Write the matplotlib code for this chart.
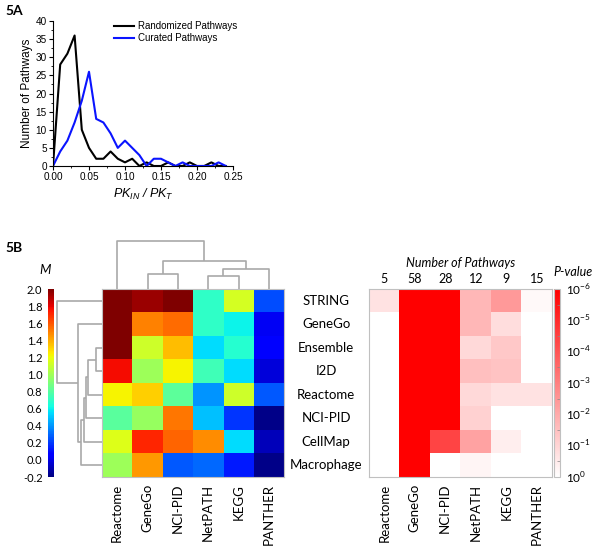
import numpy as np
import matplotlib
matplotlib.use("Agg")
import matplotlib.pyplot as plt
from matplotlib.colors import LinearSegmentedColormap
from matplotlib.ticker import MultipleLocator

plt.rcParams['mathtext.fontset'] = 'custom'
plt.rcParams['mathtext.rm'] = 'Liberation Sans'
plt.rcParams['mathtext.it'] = 'Liberation Sans:italic'

# ---- panel A data ----
ratio = [0.00, 0.01, 0.02, 0.03, 0.04, 0.05, 0.06, 0.07, 0.08, 0.09, 0.10, 0.11, 0.12,
         0.13, 0.14, 0.15, 0.16, 0.17, 0.18, 0.19, 0.20, 0.21, 0.22, 0.23, 0.24]
randomized = [0, 28, 31, 36, 10, 5, 2, 2, 4, 2, 1, 2, 0,
              1, 0, 0, 1, 0, 0, 1, 0, 0, 1, 0, 0]
curated = [0, 4, 7, 12, 18, 26, 13, 12, 9, 5, 7, 5, 3,
           0, 2, 2, 1, 0, 1, 0, 0, 0, 0, 1, 0]

# ---- panel B data ----
rows = ["STRING", "GeneGo", "Ensemble", "I2D", "Reactome", "NCI-PID", "CellMap", "Macrophage"]
cols = ["Reactome", "GeneGo", "NCI-PID", "NetPATH", "KEGG", "PANTHER"]
n_pathways = [5, 58, 28, 12, 9, 15]

M = np.array([
    [2.00, 1.94, 2.00, 0.70, 1.14, 0.24],
    [2.00, 1.50, 1.55, 0.70, 0.60, 0.03],
    [2.00, 1.12, 1.36, 0.55, 0.67, 0.05],
    [1.77, 0.99, 1.23, 0.74, 0.55, -0.02],
    [1.23, 1.32, 0.82, 0.40, 1.12, 0.27],
    [0.81, 0.97, 1.52, 0.49, 0.19, -0.18],
    [1.16, 1.71, 1.57, 1.47, 0.55, -0.08],
    [0.99, 1.45, 0.27, 0.30, 0.13, -0.18],
])

# -log10(p)
neglogp = np.array([
    [0.7, 6, 6, 1.7, 2.4, 0.15],
    [0.0, 6, 6, 1.7, 0.8, 0.0],
    [0.0, 6, 6, 0.9, 1.3, 0.0],
    [0.0, 6, 6, 1.5, 1.4, 0.0],
    [0.0, 6, 6, 0.9, 0.7, 0.7],
    [0.0, 6, 6, 1.1, 0.0, 0.0],
    [0.0, 6, 4.4, 2.2, 0.4, 0.0],
    [0.0, 6, 0.0, 0.25, 0.0, 0.0],
])

# dendrograms: (child a, child b, height); ids >= n are earlier merges
col_merges = [(1, 2, 15), (3, 4, 13.3), (7, 5, 20), (6, 8, 28), (0, 9, 48.3)]
row_merges = [(2, 3, 6.3), (8, 4, 13.7), (9, 5, 15.7), (10, 6, 18),
              (11, 7, 20.7), (1, 12, 23.7), (0, 13, 45.3)]

W, H = 600, 553


def rect(x0, y0, x1, y1):
    return [x0 / W, 1 - y1 / H, (x1 - x0) / W, (y1 - y0) / H]


def draw_dendro(ax, n, merges, horizontal):
    pos = {i: (float(i), 0.0) for i in range(n)}
    for k, (a, b, h) in enumerate(merges):
        pa, ha = pos[a]
        pb, hb = pos[b]
        xs = [pa, pa, pb, pb]
        ys = [ha, h, h, hb]
        if horizontal:
            ax.plot(ys, xs, color='#a9a9a9', lw=1.2, solid_capstyle='butt')
        else:
            ax.plot(xs, ys, color='#a9a9a9', lw=1.2, solid_capstyle='butt')
        pos[n + k] = ((pa + pb) / 2, h)
    ax.axis('off')


fig = plt.figure(figsize=(6, 5.53), dpi=100)

# ---------------- 5A ----------------
axA = fig.add_axes(rect(53, 21, 233, 166))
axA.plot(ratio, randomized, color='black', lw=1.5, label='Randomized Pathways')
axA.plot(ratio, curated, color='#0a14ff', lw=1.5, label='Curated Pathways')
axA.set_xlim(0, 0.25)
axA.set_ylim(0, 40)
axA.xaxis.set_major_locator(MultipleLocator(0.05))
axA.xaxis.set_minor_locator(MultipleLocator(0.025))
axA.yaxis.set_major_locator(MultipleLocator(5))
axA.yaxis.set_minor_locator(MultipleLocator(2.5))
axA.set_xticklabels([f"{v:.2f}" for v in axA.get_xticks()])
for s in ['top', 'right']:
    axA.spines[s].set_visible(False)
for s in ['left', 'bottom']:
    axA.spines[s].set_linewidth(0.8)
axA.tick_params(which='major', length=3, width=0.8, labelsize=7.2, pad=1.5)
axA.tick_params(which='minor', length=1.5, width=0.6)
for lab in axA.get_xticklabels() + axA.get_yticklabels():
    lab.set_family('Liberation Sans')
axA.set_ylabel('Number of Pathways', family='Liberation Sans', fontsize=8.5, labelpad=2)
axA.set_xlabel(r'$PK_{IN}$ / $PK_{T}$', family='Liberation Sans', style='italic',
               fontsize=9, labelpad=3)
axA.legend(loc='upper left', bbox_to_anchor=(0.33, 1.01), frameon=False,
           prop={'family': 'Liberation Sans', 'size': 7}, handlelength=2.0,
           handletextpad=0.4, labelspacing=0.2, borderpad=0.2, borderaxespad=0)

fig.text(5 / W, 1 - 11 / H, '5A', family='Lato', weight='bold', fontsize=10, va='center')
fig.text(5 / W, 1 - 248 / H, '5B', family='Lato', weight='bold', fontsize=10, va='center')

# ---------------- 5B left heatmap ----------------
axM = fig.add_axes(rect(102, 289, 284, 477))
imM = axM.imshow(M, cmap='jet', vmin=-0.2, vmax=2.0, aspect='auto', interpolation='nearest')
axM.set_xticks(range(len(cols)))
axM.set_xticklabels(cols, rotation=90, family='Lato', fontsize=9.5)
axM.set_yticks([])
axM.tick_params(length=0, pad=5)
for s in axM.spines.values():
    s.set_color('#c0c0c0')
    s.set_linewidth(0.8)

for i, r in enumerate(rows):
    axM.annotate(r, xy=(1.0, i), xycoords=('axes fraction', 'data'),
                 xytext=(42, 0), textcoords='offset pixels', ha='center', va='center',
                 family='Lato', fontsize=9.5)

axTop = fig.add_axes(rect(102, 239, 284, 289))
draw_dendro(axTop, len(cols), col_merges, horizontal=False)
axTop.set_xlim(-0.5, len(cols) - 0.5)
axTop.set_ylim(0, 50)

axLeft = fig.add_axes(rect(56, 289, 102, 477))
draw_dendro(axLeft, len(rows), row_merges, horizontal=True)
axLeft.set_ylim(len(rows) - 0.5, -0.5)
axLeft.set_xlim(46, 0)

caxM = fig.add_axes(rect(48, 289, 54, 477))
cbM = fig.colorbar(imM, cax=caxM)
cbM.set_ticks(np.round(np.arange(-0.2, 2.01, 0.2), 1))
cbM.set_ticklabels([f"{v:.1f}" for v in np.arange(-0.2, 2.01, 0.2)])
cbM.outline.set_visible(False)
caxM.yaxis.set_ticks_position('left')
caxM.tick_params(length=0, pad=4, labelsize=8)
for lab in caxM.get_yticklabels():
    lab.set_family('Lato')
fig.text(45 / W, 1 - 270 / H, 'M', family='Lato', style='italic', fontsize=9.5,
         ha='center', va='center')

# ---------------- 5B right heatmap ----------------
reds = LinearSegmentedColormap.from_list('wr', ['#ffffff', '#ff0000'])
axP = fig.add_axes(rect(369, 289, 552, 477))
imP = axP.imshow(neglogp, cmap=reds, vmin=0, vmax=6, aspect='auto', interpolation='nearest')
axP.set_xticks(range(len(cols)))
axP.set_xticklabels(cols, rotation=90, family='Lato', fontsize=9.5)
axP.set_yticks([])
axP.tick_params(length=0, pad=5)
for s in axP.spines.values():
    s.set_color('#c0c0c0')
    s.set_linewidth(0.8)

top = axP.secondary_xaxis('top')
top.set_xticks(range(len(cols)))
top.set_xticklabels([str(v) for v in n_pathways], family='Lato', fontsize=9)
top.tick_params(length=0, pad=3)
top.spines['top'].set_visible(False)
top.set_xlabel('Number of Pathways', family='Lato', style='italic', fontsize=9, labelpad=4)

caxP = fig.add_axes(rect(554, 289, 560, 477))
cbP = fig.colorbar(imP, cax=caxP)
cbP.set_ticks(range(0, 7))
cbP.set_ticklabels([rf'$10^{{{-k}}}$' for k in range(0, 7)])
cbP.outline.set_edgecolor('#c0c0c0')
cbP.outline.set_linewidth(0.8)
caxP.yaxis.set_minor_locator(MultipleLocator(0.5))
caxP.tick_params(which='major', length=0, pad=4, labelsize=8.5)
caxP.tick_params(which='minor', length=2, width=0.5, color='#888888', direction='in')
plt.rcParams['mathtext.rm'] = 'Lato'
fig.text(573 / W, 1 - 272 / H, 'P-value', family='Lato', style='italic', fontsize=9,
         ha='center', va='center')

fig.savefig('out.png', dpi=100)
